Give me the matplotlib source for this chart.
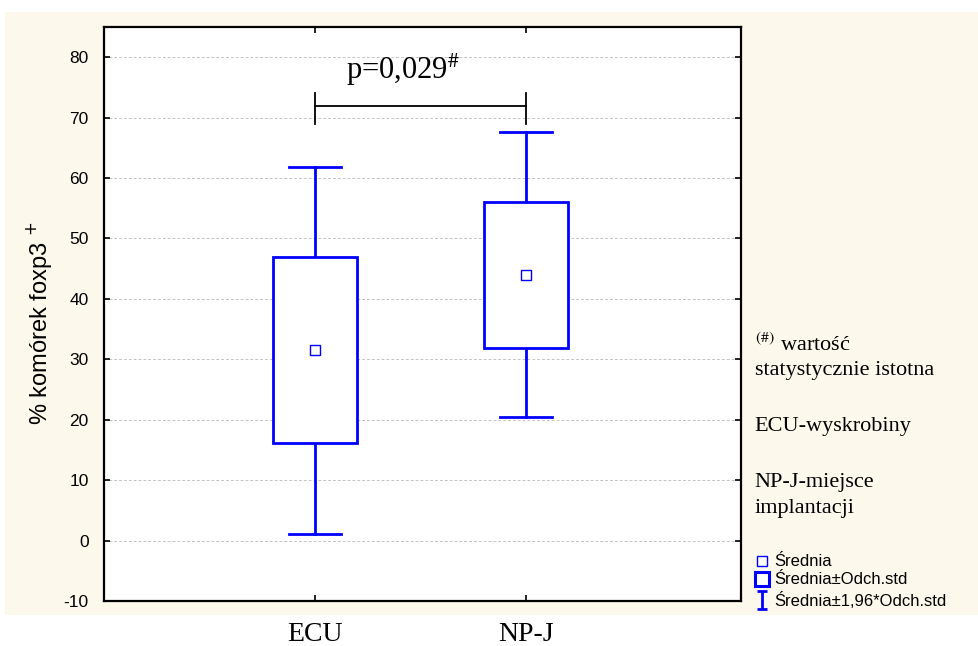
import numpy as np
import matplotlib.pyplot as plt
from matplotlib.lines import Line2D
from matplotlib.patches import Rectangle
from matplotlib.path import Path

plt.rcParams['axes.unicode_minus'] = False

# values
groups = ['ECU', 'NP-J']
means = [31.5, 43.9]
box_low = [16.1, 31.9]
box_high = [47.0, 56.0]
whisk_low = [1.1, 20.4]
whisk_high = [61.9, 67.6]
p_text = 'p=0,029$^{\\#}$'
notes = ['statystycznie istotna', 'ECU-wyskrobiny', 'NP-J-miejsce', 'implantacji']
legend_labels = ['Średnia', 'Średnia±Odch.std', 'Średnia±1,96*Odch.std']

blue = '#0000ff'
cream = '#fdf8ec'

fig = plt.figure(figsize=(9.79, 6.46), dpi=100)
fig.patch.set_facecolor('white')
fig.add_artist(Rectangle((0.005, 0.048), 0.995, 0.933, transform=fig.transFigure,
                         facecolor=cream, edgecolor='none', zorder=-10))

ax = fig.add_axes([0.1062, 0.0697, 0.6507, 0.8885])
ax.set_facecolor('white')
ax.set_xlim(0, 3.02)
ax.set_ylim(-10, 85)
ax.set_yticks(np.arange(-10, 81, 10))
ax.yaxis.grid(True, color='#c4c4c4', linestyle=(0, (3, 2)), linewidth=0.7)
ax.set_axisbelow(True)

for i, name in enumerate(groups):
    x = i + 1
    # whiskers
    ax.plot([x, x], [whisk_low[i], box_low[i]], color=blue, lw=2, zorder=2)
    ax.plot([x, x], [box_high[i], whisk_high[i]], color=blue, lw=2, zorder=2)
    ax.plot([x - 0.123, x + 0.123], [whisk_low[i]] * 2, color=blue, lw=2, zorder=2)
    ax.plot([x - 0.123, x + 0.123], [whisk_high[i]] * 2, color=blue, lw=2, zorder=2)
    # box
    ax.add_patch(Rectangle((x - 0.2, box_low[i]), 0.4, box_high[i] - box_low[i],
                           facecolor='white', edgecolor=blue, lw=2, zorder=3))
    # mean
    ax.plot(x, means[i], marker='s', ms=7, mfc='white', mec=blue, mew=1, zorder=4)

# significance bracket
ax.plot([1, 2], [72, 72], color='black', lw=1.3)
ax.plot([1, 1], [69, 74], color='black', lw=1.3)
ax.plot([2, 2], [69, 74], color='black', lw=1.3)
ax.text(1.42, 76.4, p_text, ha='center', va='baseline', fontsize=22,
        family='Liberation Serif', math_fontfamily='stix')

ax.set_xticks([1, 2])
ax.set_xticklabels([])
ax.tick_params(axis='both', direction='in', length=4, width=1.2,
               top=True, right=True, labelsize=12.5, pad=11)
for lbl in ax.get_yticklabels():
    lbl.set_family('Liberation Sans')
for sp in ax.spines.values():
    sp.set_linewidth(1.6)

# category labels below cream band
for i, name in enumerate(groups):
    ax.text(i + 1, -15.6, name, ha='center', va='center', fontsize=20,
            family='Liberation Serif', clip_on=False)

ax.set_ylabel('% komórek foxp3 $^{+}$', fontsize=17, family='Liberation Sans')
ax.yaxis.set_label_coords(-0.078, 0.484)

# notes on the right
notes_x = 0.771
notes_y = [371, 426, 482, 509]
fig.text(notes_x, 1 - 345 / 646, '$^{(\\#)}$ wartość', fontsize=16,
         family='Liberation Serif', va='center', math_fontfamily='stix')
for txt, yp in zip(notes, notes_y):
    fig.text(notes_x, 1 - yp / 646, txt, fontsize=16,
             family='Liberation Serif', va='center')

# legend, drawn item by item
ibar = Path([(-0.5, 1), (0.5, 1), (0, 1), (0, -1), (-0.5, -1), (0.5, -1)],
            [Path.MOVETO, Path.LINETO, Path.MOVETO, Path.LINETO, Path.MOVETO, Path.LINETO])
leg_styles = [dict(marker='s', ms=7, mfc='white', mec=blue, mew=1),
              dict(marker='s', ms=9.5, mfc='white', mec=blue, mew=2.2),
              dict(marker=ibar, ms=13, mec=blue, mew=2)]
leg_y = [561, 579, 600]
for lab, st, yp in zip(legend_labels, leg_styles, leg_y):
    yf = 1 - yp / 646
    fig.add_artist(Line2D([762 / 979], [yf], transform=fig.transFigure, ls='none', **st))
    fig.text(774 / 979, yf, lab, fontsize=12, family='Liberation Sans', va='center')

fig.savefig('out.png', dpi=100)
